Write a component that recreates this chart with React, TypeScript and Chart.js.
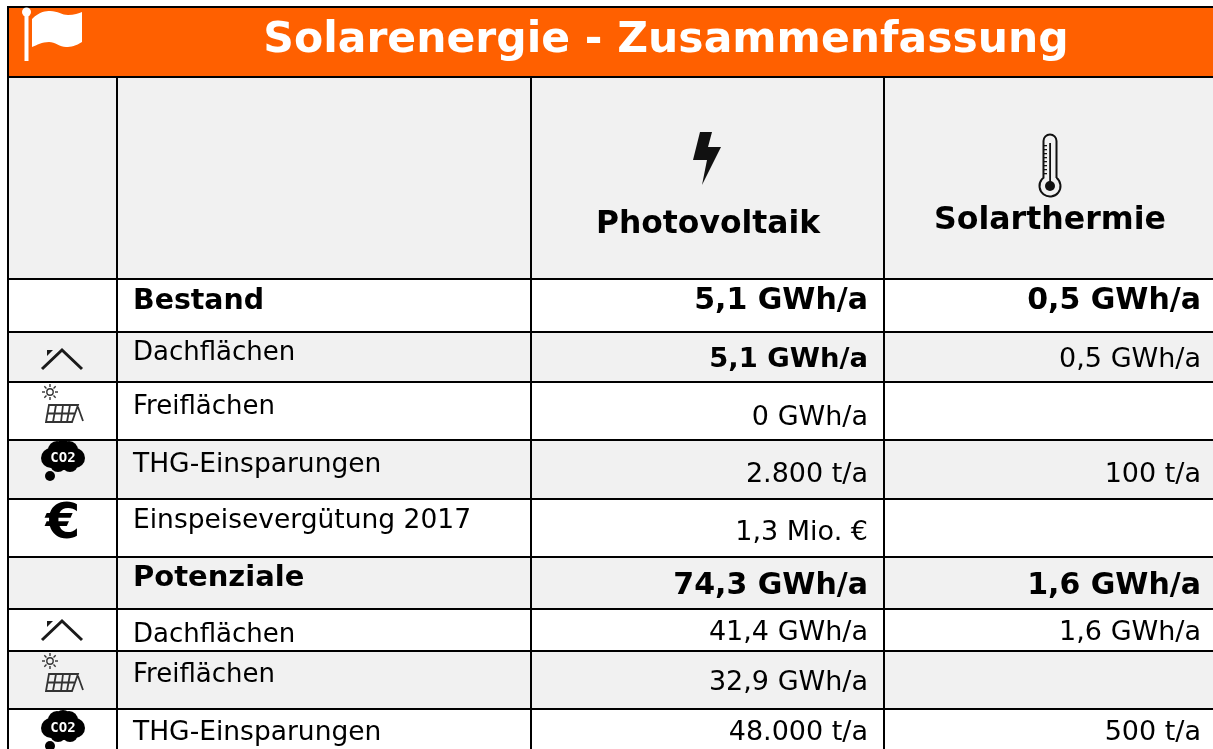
import React, { useEffect, useRef } from "react";
import { Chart, registerables } from "chart.js";

Chart.register(...registerables);

const TITLE = "Solarenergie - Zusammenfassung";
const COLUMNS = ["Photovoltaik", "Solarthermie"];
const ROW_LABELS = ["Bestand", "Dachflächen", "Freiflächen", "THG-Einsparungen", "Einspeisevergütung 2017", "Potenziale", "Dachflächen", "Freiflächen", "THG-Einsparungen"];
const PHOTOVOLTAIK = ["5,1 GWh/a", "5,1 GWh/a", "0 GWh/a", "2.800 t/a", "1,3 Mio. €", "74,3 GWh/a", "41,4 GWh/a", "32,9 GWh/a", "48.000 t/a"];
const SOLARTHERMIE = ["0,5 GWh/a", "0,5 GWh/a", "", "100 t/a", "", "1,6 GWh/a", "1,6 GWh/a", "", "500 t/a"];
const ROW_ICONS = ["", "roof", "panel", "co2", "euro", "", "roof", "panel", "co2"];

// layout of the table, in the units of the two linear scales
const COL_EDGES = [8, 117, 531, 884];
const ROW_EDGES = [77, 279, 332, 382, 440, 499, 557, 609, 651, 709, 749];
const ROW_GREY = [true, false, true, false, true, false, true, false, true, false];
const LABEL_BASE = [309, 360, 414, 472, 528, 586, 642, 682, 740];
const VALUE_BASE = [309, 367, 425, 482, 540, 594, 640, 690, 740];
const LABEL_SIZE = [28.4, 26, 26, 26.5, 26.5, 29, 26, 26, 26.5];
const PV_SIZE = [30, 27.4, 27, 27, 27, 30, 27, 27, 27];
const ST_SIZE = [30, 27, 27, 27, 27, 30, 27, 27, 27];
const BOLD_LABEL = [true, false, false, false, false, true, false, false, false];
const BOLD_PV = [true, true, false, false, false, true, false, false, false];
const BOLD_ST = [true, false, false, false, false, true, false, false, false];
const ICON_Y = [0, 360, 408, 457, 520, 0, 631, 677, 727];

const FONT = '"DejaVu Sans"';

function roof(c: CanvasRenderingContext2D, x: number, y: number) {
  c.strokeStyle = "#1a1a1a"; c.lineWidth = 3; c.lineJoin = "miter"; c.beginPath();
  c.moveTo(x - 20, y + 9); c.lineTo(x, y - 10); c.lineTo(x + 20, y + 9); c.stroke();
  c.fillStyle = "#1a1a1a"; c.beginPath();
  c.moveTo(x - 15, y - 10); c.lineTo(x - 9, y - 10); c.lineTo(x - 15, y - 4); c.closePath(); c.fill();
}
function panel(c: CanvasRenderingContext2D, x: number, y: number) {
  c.strokeStyle = "#333"; c.lineWidth = 1.4;
  const sx = x - 12, sy = y - 16;
  c.beginPath(); c.arc(sx, sy, 3.2, 0, Math.PI * 2); c.stroke();
  for (let i = 0; i < 8; i++) {
    const a = (i * Math.PI) / 4;
    c.beginPath();
    c.moveTo(sx + Math.cos(a) * 5, sy + Math.sin(a) * 5);
    c.lineTo(sx + Math.cos(a) * 8, sy + Math.sin(a) * 8);
    c.stroke();
  }
  const t = y - 3, b = y + 14;
  c.lineWidth = 1.8; c.beginPath();
  c.moveTo(x - 13, t); c.lineTo(x + 16, t); c.lineTo(x + 10, b); c.lineTo(x - 16, b); c.closePath();
  c.moveTo(x - 15, t + 8.5); c.lineTo(x + 13, t + 8.5);
  c.moveTo(x - 6, t); c.lineTo(x - 9, b);
  c.moveTo(x + 1, t); c.lineTo(x - 1, b);
  c.moveTo(x + 8, t); c.lineTo(x + 5, b);
  c.moveTo(x + 16, t + 2); c.lineTo(x + 21, b - 1);
  c.stroke();
}
function co2(c: CanvasRenderingContext2D, x: number, y: number) {
  c.fillStyle = "#000";
  const blobs = [[0, 0, 13], [-12, 1, 10], [12, 1, 10], [-6, -7, 9], [6, -7, 9], [-5, 7, 8], [7, 7, 8], [0, -9, 8]];
  blobs.forEach(([dx, dy, r]) => { c.beginPath(); c.arc(x + dx, y + dy, r, 0, Math.PI * 2); c.fill(); });
  c.beginPath(); c.arc(x - 13, y + 19, 5, 0, Math.PI * 2); c.fill();
  c.fillStyle = "#fff"; c.font = `bold 14px "DejaVu Sans Mono"`; c.textAlign = "center"; c.textBaseline = "middle";
  c.fillText("CO2", x, y + 1);
  c.textBaseline = "alphabetic";
}
function flag(c: CanvasRenderingContext2D) {
  c.fillStyle = "#fff";
  c.fillRect(24.5, 12, 4, 49);
  c.beginPath(); c.arc(26.5, 12, 4.5, 0, Math.PI * 2); c.fill();
  c.beginPath(); c.moveTo(32, 19);
  c.bezierCurveTo(40, 11, 46, 11, 50, 11); c.bezierCurveTo(58, 11, 62, 15, 68, 15); c.bezierCurveTo(74, 15, 79, 13, 82, 12);
  c.lineTo(82, 42);
  c.bezierCurveTo(76, 46, 71, 47, 66, 47); c.bezierCurveTo(60, 47, 55, 42, 49, 42); c.bezierCurveTo(42, 42, 37, 45, 32, 47);
  c.closePath(); c.fill();
}
function bolt(c: CanvasRenderingContext2D, x: number, y: number) {
  c.fillStyle = "#111"; c.beginPath();
  c.moveTo(x - 7, y); c.lineTo(x + 5, y); c.lineTo(x + 1, y + 15); c.lineTo(x + 14, y + 15);
  c.lineTo(x - 5, y + 53); c.lineTo(x, y + 28); c.lineTo(x - 14, y + 28); c.closePath(); c.fill();
}
function thermo(c: CanvasRenderingContext2D, x: number, y: number) {
  c.strokeStyle = "#111"; c.lineWidth = 2; c.beginPath();
  c.arc(x, y + 7, 6.5, Math.PI, 0); c.lineTo(x + 6.5, y + 44);
  c.arc(x, y + 52, 10.5, -Math.PI / 2 + 0.67, Math.PI * 1.5 - 0.67);
  c.closePath(); c.stroke();
  c.fillStyle = "#111"; c.beginPath(); c.arc(x, y + 52, 5, 0, Math.PI * 2); c.fill();
  c.fillRect(x - 0.8, y + 9, 1.8, 40);
  for (let i = 0; i < 8; i++) c.fillRect(x - 6, y + 11 + i * 4, 3, 1.3);
}

const tablePlugin = {
  id: "tablePlugin",
  afterDraw(chart: any) {
    const c: CanvasRenderingContext2D = chart.ctx;
    const X = (v: number) => chart.scales.x.getPixelForValue(v);
    const Y = (v: number) => chart.scales.y.getPixelForValue(v);
    const right = X(1213);
    c.save();
    c.fillStyle = "#ffffff"; c.fillRect(0, 0, right, Y(749));
    c.fillStyle = "#ff6000"; c.fillRect(X(8), Y(7), right - X(8), Y(77) - Y(7));
    c.fillStyle = "#f1f1f1";
    ROW_EDGES.slice(0, -1).forEach((top, i) => {
      if (ROW_GREY[i]) c.fillRect(X(8), Y(top), right - X(8), Y(ROW_EDGES[i + 1]) - Y(top));
    });
    c.strokeStyle = "#000"; c.lineWidth = 2;
    c.beginPath();
    c.moveTo(X(7), Y(7)); c.lineTo(right, Y(7));
    ROW_EDGES.slice(0, -1).forEach((e) => { c.moveTo(X(8), Y(e)); c.lineTo(right, Y(e)); });
    c.moveTo(X(COL_EDGES[0]), Y(6)); c.lineTo(X(COL_EDGES[0]), Y(749));
    COL_EDGES.slice(1).forEach((e) => { c.moveTo(X(e), Y(77)); c.lineTo(X(e), Y(749)); });
    c.stroke();

    c.fillStyle = "#fff"; c.textAlign = "center"; c.font = `bold 42.5px ${FONT}`;
    c.fillText(TITLE, X(666), Y(52));
    flag(c);

    c.fillStyle = "#000"; c.font = `bold 31.4px ${FONT}`;
    c.fillText(COLUMNS[0], X(708), Y(233));
    c.font = `bold 31.6px ${FONT}`;
    c.fillText(COLUMNS[1], X(1050), Y(229));
    bolt(c, X(707), Y(132));
    thermo(c, X(1050), Y(134));

    ROW_LABELS.forEach((label, i) => {
      c.fillStyle = "#000"; c.textAlign = "left";
      c.font = `${BOLD_LABEL[i] ? "bold " : ""}${LABEL_SIZE[i]}px ${FONT}`;
      c.fillText(label, X(133), Y(LABEL_BASE[i]));
      c.textAlign = "right";
      c.font = `${BOLD_PV[i] ? "bold " : ""}${PV_SIZE[i]}px ${FONT}`;
      c.fillText(PHOTOVOLTAIK[i], X(868), Y(VALUE_BASE[i]));
      c.font = `${BOLD_ST[i] ? "bold " : ""}${ST_SIZE[i]}px ${FONT}`;
      c.fillText(SOLARTHERMIE[i], X(1201), Y(VALUE_BASE[i]));
      const kind = ROW_ICONS[i];
      if (kind === "roof") roof(c, X(62), Y(ICON_Y[i]));
      if (kind === "panel") panel(c, X(62), Y(ICON_Y[i]));
      if (kind === "co2") co2(c, X(63), Y(ICON_Y[i]));
      if (kind === "euro") {
        c.fillStyle = "#000"; c.textAlign = "center"; c.font = `bold 50px ${FONT}`;
        c.fillText("€", X(63), Y(ICON_Y[i] + 18));
      }
    });
    c.restore();
  },
};

export default function App() {
  const ref = useRef<HTMLCanvasElement>(null);
  useEffect(() => {
    document.body.style.margin = "0";
    const chart = new Chart(ref.current!, {
      type: "scatter",
      data: { datasets: [{ data: [] }] },
      plugins: [tablePlugin],
      options: {
        animation: false,
        responsive: false,
        layout: { padding: 0 },
        plugins: { legend: { display: false }, tooltip: { enabled: false } },
        scales: {
          x: { type: "linear", display: false, min: 0, max: 1213 },
          y: { type: "linear", display: false, min: 0, max: 749, reverse: true },
        },
      },
    });
    return () => chart.destroy();
  }, []);
  return <canvas ref={ref} width={1213} height={749} style={{ display: "block" }} />;
}
